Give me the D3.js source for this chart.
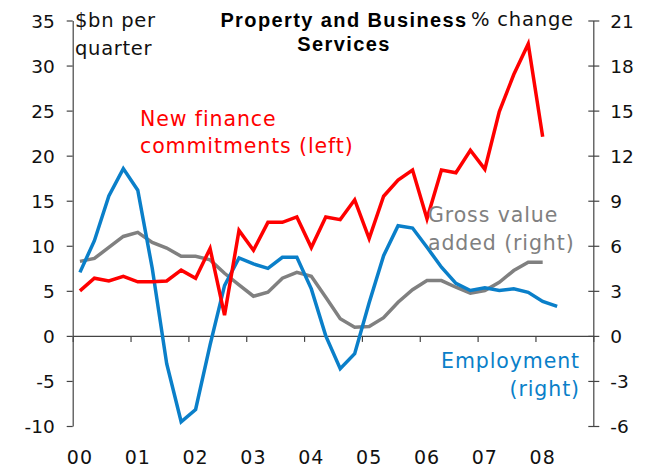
<!DOCTYPE html>
<html>
<head>
<meta charset="utf-8">
<script src="https://cdn.jsdelivr.net/npm/d3@7"></script>
<style>
  body { margin: 0; background: #fff; }
  svg { display: block; }
  text { font-family: "DejaVu Sans", Verdana, sans-serif; }
</style>
</head>
<body>
<div id="chart"></div>
<script>
// Quarterly data, March 2000 onwards
const yearLabels = ["00", "01", "02", "03", "04", "05", "06", "07", "08"];

// New finance commitments, $bn per quarter (left axis)
const financeValues = [5.0, 6.4, 6.1, 6.6, 6.0, 6.0, 6.1, 7.3, 6.4, 9.7, 2.3, 11.7,
    9.5, 12.6, 12.6, 13.2, 9.8, 13.2, 12.9, 15.1, 10.8, 15.5, 17.3, 18.4,
    13.0, 18.4, 18.1, 20.6, 18.5, 24.9, 29.0, 32.4, 22.1];

// Gross value added, % change (right axis)
const gvaValues = [4.96, 5.16, 5.89, 6.62, 6.89, 6.22, 5.85, 5.3, 5.3, 5.06, 4.17, 3.4,
    2.64, 2.91, 3.84, 4.23, 3.97, 2.57, 1.14, 0.58, 0.63, 1.21, 2.24, 3.07,
    3.68, 3.68, 3.24, 2.84, 3.02, 3.57, 4.35, 4.9, 4.9];

// Employment, % change (right axis)
const employmentValues = [4.23, 6.34, 9.32, 11.14, 9.7, 4.5, -1.85, -5.72, -4.9, -0.6, 3.35, 5.19,
    4.79, 4.5, 5.23, 5.23, 3.13, 0.0, -2.18, -1.18, 2.2, 5.34, 7.33, 7.18,
    5.9, 4.57, 3.5, 3.02, 3.2, 3.02, 3.13, 2.9, 2.29, 1.96];

const leftTicks = [-10, -5, 0, 5, 10, 15, 20, 25, 30, 35];
const rightTicks = [-6, -3, 0, 3, 6, 9, 12, 15, 18, 21];

const width = 652, height = 467;
const plot = { left: 72.7, right: 593.3, top: 20.5, bottom: 426 };
const nQuarters = yearLabels.length * 4;

const svg = d3.select("#chart")
    .append("svg")
    .attr("width", width)
    .attr("height", height);

// Scales
const x = d3.scaleLinear().domain([0, nQuarters]).range([plot.left, plot.right]);
const yLeft = d3.scaleLinear().domain([-10, 35]).range([plot.bottom, plot.top]);
const yRight = d3.scaleLinear().domain([-6, 21]).range([plot.bottom, plot.top]);

const axisColor = "#444";
const plain = d => String(d);   // hyphen minus, as in the original

// Left axis
const gLeft = svg.append("g")
    .attr("transform", `translate(${plot.left},0)`)
    .call(d3.axisLeft(yLeft).tickValues(leftTicks).tickFormat(plain)
        .tickSize(6).tickSizeOuter(0).tickPadding(12));

// Right axis
const gRight = svg.append("g")
    .attr("transform", `translate(${plot.right},0)`)
    .call(d3.axisRight(yRight).tickValues(rightTicks).tickFormat(plain)
        .tickSize(6).tickSizeOuter(0).tickPadding(11));
gRight.selectAll(".tick line").attr("x1", -5);

// Category axis along zero line
const gX = svg.append("g")
    .attr("transform", `translate(0,${yLeft(0)})`)
    .call(d3.axisBottom(x).tickValues(d3.range(0, nQuarters + 1, 4)).tickSize(6).tickSizeOuter(0).tickFormat(""));

[gLeft, gRight, gX].forEach(g => {
    g.select(".domain").attr("stroke", axisColor).attr("stroke-width", 1.2);
    g.selectAll(".tick line").attr("stroke", axisColor).attr("stroke-width", 1.2);
    g.selectAll(".tick text")
        .attr("fill", "#111")
        .style("font-size", "18.5px")
        .style("font-family", "'DejaVu Sans', Verdana, sans-serif");
});
gLeft.selectAll(".tick text").attr("dy", "0.36em");
gRight.selectAll(".tick text").attr("dy", "0.36em");

// Year labels
svg.append("g")
    .selectAll("text")
    .data(yearLabels)
    .enter()
    .append("text")
    .attr("x", (d, i) => x(i * 4 + 0.5))
    .attr("y", 464)
    .attr("text-anchor", "middle")
    .attr("fill", "#111")
    .style("font-size", "19px")
    .style("letter-spacing", "1px")
    .text(d => d);

// Lines
const lineLeft = d3.line().x((d, i) => x(i + 0.5)).y(d => yLeft(d));
const lineRight = d3.line().x((d, i) => x(i + 0.5)).y(d => yRight(d));

svg.append("path")
    .datum(gvaValues)
    .attr("d", lineRight)
    .attr("fill", "none")
    .attr("stroke", "#808080")
    .attr("stroke-width", 3.5);

svg.append("path")
    .datum(employmentValues)
    .attr("d", lineRight)
    .attr("fill", "none")
    .attr("stroke", "#0A7FC9")
    .attr("stroke-width", 3.5);

svg.append("path")
    .datum(financeValues)
    .attr("d", lineLeft)
    .attr("fill", "none")
    .attr("stroke", "#FF0000")
    .attr("stroke-width", 3.5);

// Text blocks
function addLines(lines, x0, y0, step, opts) {
    lines.forEach((t, i) => {
        svg.append("text")
            .attr("x", x0)
            .attr("y", y0 + i * step)
            .attr("text-anchor", opts.anchor || "start")
            .attr("fill", opts.color)
            .style("font-size", opts.size + "px")
            .style("letter-spacing", opts.spacing + "px")
            .style("font-family", opts.family || "'DejaVu Sans', Verdana, sans-serif")
            .style("font-weight", opts.weight || "normal")
            .text(t);
    });
}

// Unit labels
addLines(["$bn per", "quarter"], 75, 27, 28, { color: "#111", size: 19.5, spacing: 0.7 });
addLines(["% change"], 471, 26, 0, { color: "#111", size: 19.5, spacing: 0.8 });

// Title
addLines(["Property and Business", "Services"], 344, 27, 24,
    { color: "#000", size: 20, spacing: 1.4, anchor: "middle", weight: "bold",
      family: "'Liberation Sans', Arial, sans-serif" });

// Series annotations
addLines(["New finance", "commitments (left)"], 140, 126, 27, { color: "#FF0000", size: 20.5, spacing: 0.9 });
addLines(["Gross value", "added (right)"], 428, 222, 28, { color: "#808080", size: 20.5, spacing: 0.9 });
addLines(["Employment", "(right)"], 580, 368, 28, { color: "#0A7FC9", size: 20.5, spacing: 0.9, anchor: "end" });
</script>
</body>
</html>
